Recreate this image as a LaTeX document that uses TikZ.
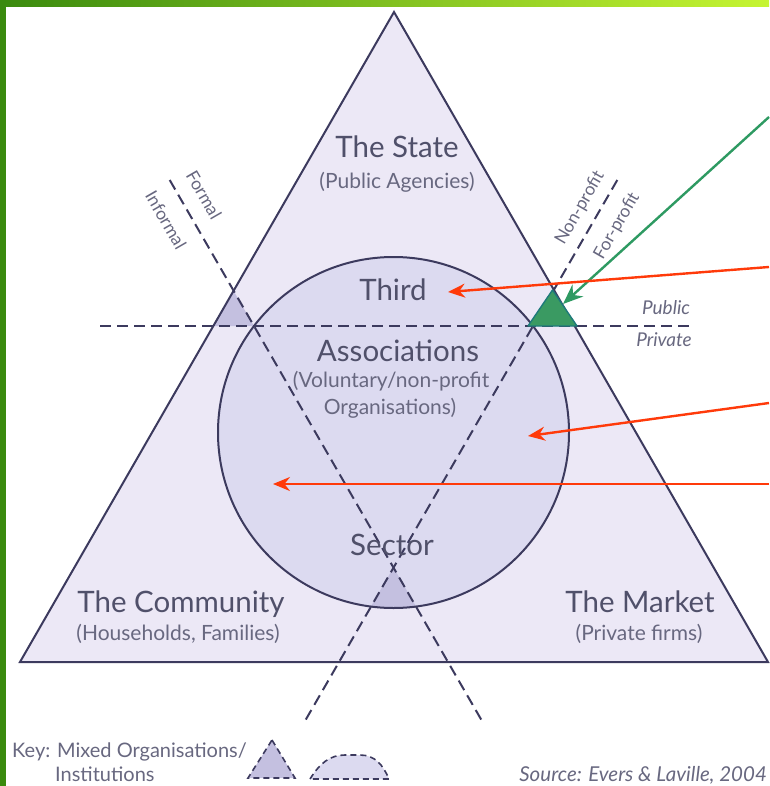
\documentclass[tikz,border=0pt]{standalone}
\usepackage{fontspec}
\setmainfont{Lato}
\usetikzlibrary{arrows.meta}
\definecolor{barL}{HTML}{3A8A0E}
\definecolor{barR}{HTML}{C6F532}
\definecolor{trifill}{HTML}{ECE8F6}
\definecolor{circfill}{HTML}{DCDAF0}
\definecolor{mixfill}{HTML}{C4C0E0}
\definecolor{navy}{HTML}{3C3A5E}
\definecolor{txt}{HTML}{50506A}
\definecolor{txtsub}{HTML}{686880}
\definecolor{redarr}{HTML}{FF3A0A}
\definecolor{greenarr}{HTML}{2E9A62}
\definecolor{greentri}{HTML}{3A9A62}
\definecolor{tealedge}{HTML}{1E7A7A}
\tikzset{
  outline/.style={draw=navy, line width=2pt},
  dashline/.style={draw=navy, line width=2pt, dash pattern=on 11pt off 6pt},
  biglabel/.style={font=\fontsize{29.5}{33}\selectfont, text=txt, anchor=base, inner sep=0pt},
  sublabel/.style={font=\fontsize{21}{24}\selectfont, text=txtsub, anchor=base, inner sep=0pt},
  keylabel/.style={font=\fontsize{20}{23}\selectfont, text=txtsub, anchor=base west, inner sep=0pt},
  smalllabel/.style={font=\fontsize{19}{22}\selectfont\itshape, text=txtsub, anchor=base, inner sep=0pt},
  rotlabel/.style={font=\fontsize{17.5}{20}\selectfont, text=txtsub, inner sep=0pt},
  redarrow/.style={draw=redarr, line width=2.4pt, -{Stealth[length=17pt,width=14pt]}},
  greenarrow/.style={draw=greenarr, line width=2.4pt, -{Stealth[length=20pt,width=16pt]}}
}
\begin{document}
\begin{tikzpicture}[x=1pt,y=-1pt]
\useasboundingbox (0,0) rectangle (769,786);
\fill[white] (0,0) rectangle (769,786);
% header bars
\shade[left color=barL, right color=barR] (0,0) rectangle (769,7);
\fill[barL] (0,0) rectangle (6,786);

% geometry
\coordinate (apex) at (394,12);
\coordinate (bl) at (20,662);
\coordinate (br) at (768,662);
\coordinate (cc) at (393.5,432.5);
\coordinate (hL) at (100,326);
\coordinate (hR) at (690,326);
\coordinate (d1a) at (169.7,180);
\coordinate (d1b) at (482.6,722);
\coordinate (d2a) at (617.3,180);
\coordinate (d2b) at (304.4,722);
\coordinate (cross) at (393.5,567.6);

% fills
\fill[trifill] (apex) -- (br) -- (bl) -- cycle;
\fill[circfill] (cc) circle[radius=175.5];
% left mixed triangle
\fill[mixfill] (213,326) -- (254,326) -- (233.4,290.5) -- cycle;
% bottom mixed region
\begin{scope}
  \clip (cc) circle[radius=175.5];
  \fill[mixfill] (cross) -- (460,682) -- (327,682) -- cycle;
\end{scope}

% outlines
\draw[outline] (apex) -- (br) -- (bl) -- cycle;
\draw[outline] (cc) circle[radius=175.5];
\draw[dashline] (hL) -- (hR);
\draw[dashline] (d1a) -- (d1b);
\draw[dashline] (d2a) -- (d2b);

% green highlighted triangle
\fill[greentri, draw=tealedge, line width=1.4pt, line join=round] (528,326) -- (577,326) -- (552.5,290) -- cycle;

% labels
\node[biglabel] (state) at (397,158) {The State};
\node[sublabel] (statesub) at (397,189) {(Public Agencies)};
\node[biglabel] (third) at (393,300) {Third};
\node[biglabel] (assoc) at (398,361) {Associations};
\node[sublabel] (vol) at (391,387) {(Voluntary/non-profit};
\node[sublabel] (org) at (390,414) {Organisations)};
\node[biglabel] (sector) at (392,555) {Sector};
\node[biglabel] (comm) at (181,612) {The Community};
\node[sublabel] (commsub) at (178,640) {(Households, Families)};
\node[biglabel] (market) at (640,612) {The Market};
\node[sublabel] (marketsub) at (639,640) {(Private firms)};
\node[smalllabel] (public) at (666,314) {Public};
\node[smalllabel] (private) at (664,346) {Private};
\node[rotlabel, rotate=-60] (formal) at (204,195) {Formal};
\node[rotlabel, rotate=-60] (informal) at (166,220) {Informal};
\node[rotlabel, rotate=60] (nonprofit) at (580,208) {Non-profit};
\node[rotlabel, rotate=60] (forprofit) at (617,226) {For-profit};
\node[keylabel] (key) at (12,757) {Key: Mixed Organisations/};
\node[keylabel] (inst) at (55,781) {Institutions};
\node[keylabel, anchor=base east, font=\fontsize{20.5}{23}\selectfont\itshape] (source) at (767,781) {Source: Evers \& Laville, 2004};

% key shapes
\filldraw[fill=mixfill, draw=navy, line width=1.6pt, dash pattern=on 6pt off 4pt] (272,740) -- (295,778) -- (248,778) -- cycle;
\filldraw[fill=circfill, draw=navy, line width=1.6pt, dash pattern=on 6pt off 4pt] (310,779) .. controls (320,763) and (330,755) .. (345,755) -- (360,755) .. controls (375,755) and (383,765) .. (389,779) -- cycle;

% arrows
\coordinate (gstart) at (769,117);
\coordinate (gtip) at (563,304);
\coordinate (r1start) at (769,267);
\coordinate (r1tip) at (448,292);
\coordinate (r2start) at (769,403);
\coordinate (r2tip) at (528,436);
\coordinate (r3start) at (769,484);
\coordinate (r3tip) at (273,484);
\draw[greenarrow] (gstart) -- (gtip);
\draw[redarrow] (r1start) -- (r1tip);
\draw[redarrow] (r2start) -- (r2tip);
\draw[redarrow] (r3start) -- (r3tip);
\end{tikzpicture}
\end{document}
